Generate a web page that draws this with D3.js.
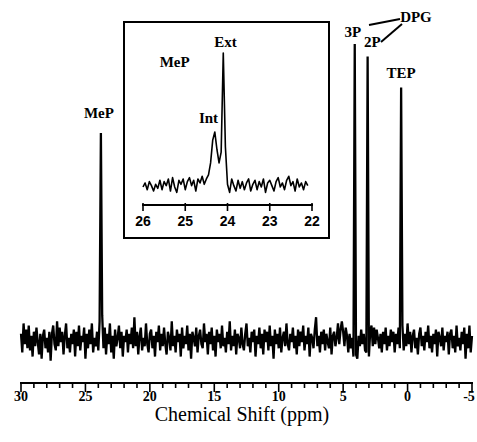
<!DOCTYPE html>
<html>
<head>
<meta charset="utf-8">
<script src="https://cdn.jsdelivr.net/npm/d3@7"></script>
<style>
  body { margin: 0; background: #fff; }
  svg { display: block; }
  .lbl { font-family: 'Liberation Serif', 'Times New Roman', serif; font-weight: bold; font-size: 15px; }
</style>
</head>
<body>
<div id="chart"></div>
<script>
// main spectrum, sampled every 0.1 ppm from 30 down to -5
var mainStart = 30, mainStep = 0.1;
var mainValues = [
  3,-6,8,-2,5,-4,7,-5,2,-8,4,-3,6,-1,-7,3,-9,2,5,-4,
  1,-6,4,-10,3,7,-2,-5,9,-3,6,-1,4,-7,2,8,-4,1,-6,3,
  -2,5,-8,4,-3,7,-5,2,-1,6,-9,3,-4,5,-2,8,-6,1,-3,4,
  -5,9,100,12,-4,6,-7,3,-2,8,
  -6,2,-9,5,-3,1,7,-4,4,-8,2,-1,5,-6,3,-2,6,-4,11,-3,
  4,-7,2,6,-5,1,-3,8,-2,-6,3,5,-4,2,-8,4,-1,7,-5,3,
  -3,6,-2,-7,4,1,-5,9,-3,2,-6,5,-1,3,-8,6,-4,2,-2,7,
  -5,3,-9,4,1,-3,6,-6,2,5,-2,-4,8,-1,3,-7,4,-2,6,-5,
  2,-8,5,-1,3,-4,7,-3,1,-6,4,-2,9,-5,2,-3,5,-7,3,1,
  -4,6,-2,-5,3,8,-3,1,-6,4,-1,5,-8,2,-2,6,-4,3,-7,5,
  -1,4,-5,7,-3,2,-9,5,-2,3,-4,6,-6,1,4,-3,8,-2,-5,3,
  -1,6,-4,2,-7,5,-3,4,-1,7,-5,2,-2,6,-8,3,1,-4,5,11,
  -3,2,-6,4,-2,5,-5,3,-1,-4,6,-7,2,4,-3,1,8,-2,5,9,
  4,-3,6,2,-6,3,-4,1,-8,143,
  -7,-9,2,-3,5,-2,3,-5,-6,137,
  -8,4,7,-3,6,-2,5,1,-4,3,-6,4,-2,6,-5,2,-3,5,-1,4,
  -6,3,-2,6,-4,122,7,-5,3,-3,
  8,-2,4,-6,2,5,-4,1,-7,3,6,-3,2,-5,4,-1,7,-4,2,-6,
  3,-2,5,-8,4,1,-3,6,-5,2,-1,4,-7,3,5,-4,2,-6,7,-3,
  1,-5,4,-2,6,-9,3,-4,7,-6,2
];

// inset: MeP region, every 0.05 ppm from 26 ppm
var insetStart = 26, insetStep = 0.05;
var insetValues = [
  0,3,-2,4,1,-3,2,-1,5,-2,
  4,1,6,-3,7,0,-4,5,2,6,
  -2,4,7,1,5,-3,6,3,8,2,
  6,9,18,35,41,28,18,26,100,30,2,
  -4,6,1,-3,5,-1,4,-2,3,6,
  -3,2,5,-2,4,0,6,-4,3,5,
  1,-3,4,7,0,3,-2,5,8,1,
  4,-3,6,0,3,-2,4,1
];

var mainTicks = [30, 25, 20, 15, 10, 5, 0, -5];
var insetTicks = [26, 25, 24, 23, 22];

// peak labels: [text, ppm, x offset, baseline y]
var mainLabels = [
  ['MeP', 23.8, -2, 118],
  ['3P', 4.1, -2, 37],
  ['2P', 3.2, 6, 47],
  ['DPG', 0.5, -1, 22],
  ['TEP', 0.5, 0, 78]
];
var insetLabels = [
  ['MeP', 25.25, 0, 67],
  ['Int', 24.45, 0, 123],
  ['Ext', 24.05, 0, 47]
];

var width = 477, height = 442;

var svg = d3.select('#chart')
  .append('svg')
  .attr('width', width)
  .attr('height', height);

var x = d3.scaleLinear().domain([30, -5]).range([21, 472]);
var y = d3.scaleLinear().domain([0, 100]).range([340, 133]);

var line = d3.line()
  .x(function(d, i) { return x(mainStart - i * mainStep); })
  .y(function(d) { return y(d); });

svg.append('path')
  .datum(mainValues)
  .attr('d', line)
  .attr('fill', 'none')
  .attr('stroke', '#000')
  .attr('stroke-width', 2.3)
  .attr('stroke-linejoin', 'miter')
  .attr('stroke-miterlimit', 2);

// main axis
var axisY = 383;
var minor = d3.range(30, -5.5, -1);
svg.append('line')
  .attr('x1', x(30) - 1).attr('x2', x(-5) + 1)
  .attr('y1', axisY).attr('y2', axisY)
  .attr('stroke', '#000').attr('stroke-width', 2.2);
svg.selectAll('.tk')
  .data(minor)
  .enter()
  .append('line')
  .attr('class', 'tk')
  .attr('x1', function(d) { return x(d); })
  .attr('x2', function(d) { return x(d); })
  .attr('y1', axisY)
  .attr('y2', function(d) { return axisY + (mainTicks.indexOf(d) >= 0 ? 9 : 5); })
  .attr('stroke', '#000')
  .attr('stroke-width', 1.6);
svg.selectAll('.tl')
  .data(mainTicks)
  .enter()
  .append('text')
  .attr('class', 'lbl')
  .attr('x', function(d) { return d == -5 ? x(d) - 3 : x(d); })
  .attr('y', 401)
  .attr('text-anchor', 'middle')
  .style('font-size', '14px')
  .text(function(d) { return d; });

svg.append('text')
  .attr('x', 242)
  .attr('y', 421)
  .attr('text-anchor', 'middle')
  .style('font-family', "'Liberation Serif', 'Times New Roman', serif")
  .style('font-size', '20px')
  .text('Chemical Shift (ppm)');

svg.selectAll('.ml')
  .data(mainLabels)
  .enter()
  .append('text')
  .attr('class', 'lbl')
  .attr('x', function(d) { return x(d[1]) + d[2]; })
  .attr('y', function(d) { return d[3]; })
  .attr('text-anchor', function(d) { return d[0] == 'DPG' ? 'start' : 'middle'; })
  .text(function(d) { return d[0]; });

// DPG pointers
svg.append('line')
  .attr('x1', 369).attr('y1', 25).attr('x2', 400).attr('y2', 19)
  .attr('stroke', '#000').attr('stroke-width', 2);
svg.append('line')
  .attr('x1', 381).attr('y1', 42).attr('x2', 402).attr('y2', 24)
  .attr('stroke', '#000').attr('stroke-width', 2);

// inset
svg.append('rect')
  .attr('x', 124).attr('y', 22)
  .attr('width', 205).attr('height', 216)
  .attr('fill', 'none')
  .attr('stroke', '#000')
  .attr('stroke-width', 2);

var ix = d3.scaleLinear().domain([26, 22]).range([143, 312]);
var iy = d3.scaleLinear().domain([0, 100]).range([187, 53]);

var insetLine = d3.line()
  .x(function(d, i) { return ix(insetStart - i * insetStep); })
  .y(function(d) { return iy(d); });

svg.append('path')
  .datum(insetValues)
  .attr('d', insetLine)
  .attr('fill', 'none')
  .attr('stroke', '#000')
  .attr('stroke-width', 1.6)
  .attr('stroke-linejoin', 'round');

var iAxisY = 205;
svg.append('line')
  .attr('x1', ix(26) - 1).attr('x2', ix(22) + 1)
  .attr('y1', iAxisY).attr('y2', iAxisY)
  .attr('stroke', '#000').attr('stroke-width', 2);
svg.selectAll('.itk')
  .data(insetTicks)
  .enter()
  .append('line')
  .attr('x1', function(d) { return ix(d); })
  .attr('x2', function(d) { return ix(d); })
  .attr('y1', iAxisY - 2)
  .attr('y2', iAxisY + 6)
  .attr('stroke', '#000')
  .attr('stroke-width', 1.6);
svg.selectAll('.itl')
  .data(insetTicks)
  .enter()
  .append('text')
  .attr('x', function(d) { return ix(d); })
  .attr('y', 226)
  .attr('text-anchor', 'middle')
  .style('font-family', "'Liberation Sans', Arial, sans-serif")
  .style('font-weight', 'bold')
  .style('font-size', '14px')
  .text(function(d) { return d; });

svg.selectAll('.il')
  .data(insetLabels)
  .enter()
  .append('text')
  .attr('class', 'lbl')
  .attr('x', function(d) { return ix(d[1]) + d[2]; })
  .attr('y', function(d) { return d[3]; })
  .attr('text-anchor', 'middle')
  .text(function(d) { return d[0]; });
</script>
</body>
</html>
